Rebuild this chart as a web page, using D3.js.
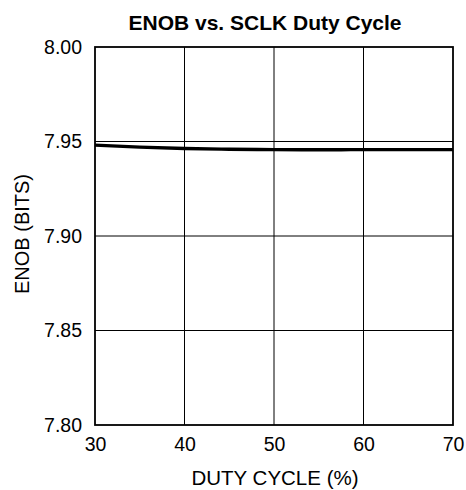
<!DOCTYPE html>
<html><head><meta charset="utf-8">
<script src="https://cdn.jsdelivr.net/npm/d3@7"></script>
<style>body{margin:0;background:#fff}svg{display:block;font-family:"Liberation Sans",Arial,sans-serif}</style>
</head><body>
<svg id="c" width="466" height="490"></svg>
<script>
const dutyCycle = [30, 35, 40, 45, 50, 55, 60, 65, 70];
const enob = [7.9481, 7.9470, 7.9463, 7.9459, 7.9457, 7.9456, 7.9457, 7.9457, 7.9457];
const xTicks = [30, 40, 50, 60, 70];
const yTicks = [7.80, 7.85, 7.90, 7.95, 8.00];
const title = "ENOB vs. SCLK Duty Cycle";
const xTitle = "DUTY CYCLE (%)";
const yTitle = "ENOB (BITS)";

const svg = d3.select("#c");
const m = {l:95, r:453, t:47, b:425};
const x = d3.scaleLinear().domain([30,70]).range([m.l, m.r]);
const y = d3.scaleLinear().domain([7.80,8.00]).range([m.b, m.t]);
const FONT = "Liberation Sans, Arial, sans-serif";

// grid
svg.append("g").selectAll("line").data(xTicks.slice(1,-1)).join("line")
  .attr("x1",d=>x(d)).attr("x2",d=>x(d)).attr("y1",m.t).attr("y2",m.b)
  .attr("stroke","#000").attr("stroke-width",1);
svg.append("g").selectAll("line").data(yTicks.slice(1,-1)).join("line")
  .attr("y1",d=>y(d)).attr("y2",d=>y(d)).attr("x1",m.l).attr("x2",m.r)
  .attr("stroke","#000").attr("stroke-width",1);

// frame
svg.append("rect").attr("x",m.l).attr("y",m.t).attr("width",m.r-m.l).attr("height",m.b-m.t)
  .attr("fill","none").attr("stroke","#000").attr("stroke-width",1.8);

const xa = svg.append("g").attr("transform",`translate(0,${m.b})`)
  .call(d3.axisBottom(x).tickValues(xTicks).tickSize(0).tickPadding(12).tickFormat(d3.format("d")));
xa.select(".domain").remove();
xa.selectAll("text").attr("font-size",19.5).attr("fill","#000").attr("font-family",FONT);

const ya = svg.append("g").attr("transform",`translate(${m.l},0)`)
  .call(d3.axisLeft(y).tickValues(yTicks).tickSize(0).tickPadding(13).tickFormat(d3.format(".2f")));
ya.select(".domain").remove();
ya.selectAll("text").attr("font-size",19.5).attr("fill","#000").attr("font-family",FONT);

// line
svg.append("path").datum(dutyCycle.map((d,i)=>[d,enob[i]]))
  .attr("d", d3.line().x(d=>x(d[0])).y(d=>y(d[1])).curve(d3.curveMonotoneX))
  .attr("fill","none").attr("stroke","#000").attr("stroke-width",3.4);

// titles
svg.append("text").attr("x",265).attr("y",30).attr("text-anchor","middle")
  .attr("font-size",21).attr("font-weight","bold").text(title);
svg.append("text").attr("x",275).attr("y",485).attr("text-anchor","middle")
  .attr("font-size",20.5).text(xTitle);
svg.append("text").attr("transform","translate(29,234) rotate(-90)").attr("text-anchor","middle")
  .attr("font-size",20).text(yTitle);
</script>
</body></html>
